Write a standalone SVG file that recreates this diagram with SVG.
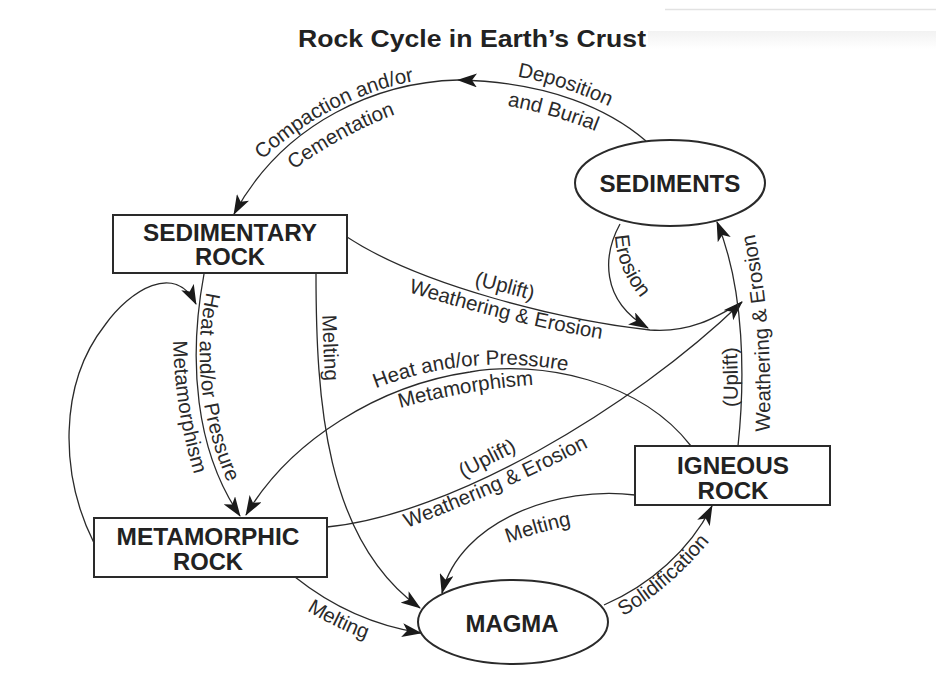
<svg xmlns="http://www.w3.org/2000/svg" width="936" height="692" viewBox="0 0 936 692">
<style>
.node-shape{fill:#fff;stroke:#2a2a2a;stroke-width:2}
.node-text{font-family:"Liberation Sans",Arial,sans-serif;font-weight:bold;font-size:23px;fill:#222;text-anchor:middle}
.edge{fill:none;stroke:#2a2a2a;stroke-width:1.3}
.arrow{marker-end:url(#ah)}
.lbl{font-family:"Liberation Sans",Arial,sans-serif;font-size:20.5px;fill:#2a2a2a}
.title{font-family:"Liberation Sans",Arial,sans-serif;font-weight:bold;font-size:24px;fill:#222;text-anchor:middle}
.guide{fill:none;stroke:none}
</style>
<defs>
<marker id="ah" viewBox="0 0 20 14" refX="19" refY="7" markerWidth="20" markerHeight="14" markerUnits="userSpaceOnUse" orient="auto">
<path d="M0,0 L20,7 L0,14 L5,7 z" fill="#1a1a1a"/>
</marker>
<linearGradient id="fade" x1="0" y1="0" x2="0" y2="1">
<stop offset="0" stop-color="#f2f2f2"/>
<stop offset="1" stop-color="#ffffff"/>
</linearGradient>
<path id="g1" class="guide" d="M 246 175 Q 331 89.5 436 78"/>
<path id="g2" class="guide" d="M 276 183 Q 342 131 416 107"/>
<path id="g3" class="guide" d="M 500 74 Q 561.5 82 625 114"/>
<path id="g4" class="guide" d="M 490 103 Q 551 111.5 612 138"/>
<path id="g5" class="guide" d="M 615 229 Q 614 268 645 303"/>
<path id="g6" class="guide" d="M 209 282 Q 182.5 385 232 492"/>
<path id="g7" class="guide" d="M 173 335 Q 173.5 408.5 196 480"/>
<path id="g8" class="guide" d="M 322 300 Q 323 348 326 396"/>
<path id="g9" class="guide" d="M 440 277 Q 503 291 566 310"/>
<path id="g10" class="guide" d="M 396 288 Q 505 323.5 614 341"/>
<path id="g11" class="guide" d="M 362 394 Q 468 348 582 374"/>
<path id="g12" class="guide" d="M 386 412 Q 467 388 548 384"/>
<path id="g13" class="guide" d="M 437 492.5 Q 490.5 463 544 438"/>
<path id="g14" class="guide" d="M 393 533 Q 496.5 495.5 602 440"/>
<path id="g15" class="guide" d="M 492 549 Q 538 530.5 588 522"/>
<path id="g16" class="guide" d="M 614 621 Q 671 591 716 533"/>
<path id="g17" class="guide" d="M 297 604 Q 333 628.5 377 643"/>
<path id="g18" class="guide" d="M 737 412 Q 739 377 736 342"/>
<path id="g19" class="guide" d="M 769 440 Q 775 333 753 226"/>
</defs>
<rect x="0" y="0" width="936" height="692" fill="#fff"/>
<line x1="665" y1="9.5" x2="936" y2="9.5" stroke="#e2e2e2" stroke-width="1.5"/>
<rect x="648" y="31" width="288" height="18" fill="url(#fade)"/>
<text class="title" x="472" y="47" textLength="348" lengthAdjust="spacingAndGlyphs">Rock Cycle in Earth’s Crust</text>

<g id="connectors">
<path class="edge arrow" d="M 646 141 C 610 110 550 82 458 80"/>
<path class="edge arrow" d="M 458 80 C 380 82 285 120 234 214"/>
<path class="edge arrow" d="M 620 224 C 603 255 600 300 648 328"/>
<path class="edge" d="M 347 237 C 420 285 560 320 650 330 C 690 333 715 318 742 302"/>
<path class="edge arrow" d="M 327 527 C 450 515 630 410 742 302"/>
<path class="edge arrow" d="M 738 446 C 745 380 745 290 717 222"/>
<path class="edge arrow" d="M 204 274 C 188 360 195 450 240 516"/>
<path class="edge arrow" d="M 94 543 C 60 475 58 385 105 325 C 130 290 175 262 196 304"/>
<path class="edge arrow" d="M 316 273 C 316 400 325 540 420 608"/>
<path class="edge arrow" d="M 691 446 C 640 380 540 360 470 372 C 380 385 290 440 246 515"/>
<path class="edge arrow" d="M 635 495 C 560 485 460 520 442 593"/>
<path class="edge arrow" d="M 604 605 C 650 585 690 550 712 506"/>
<path class="edge arrow" d="M 295 577 C 330 605 370 625 421 633"/>
</g>

<g id="edge-labels" class="lbl">
<text><textPath href="#g1" startOffset="50%" text-anchor="middle">Compaction and/or</textPath></text>
<text><textPath href="#g2" startOffset="50%" text-anchor="middle">Cementation</textPath></text>
<text><textPath href="#g3" startOffset="50%" text-anchor="middle">Deposition</textPath></text>
<text><textPath href="#g4" startOffset="50%" text-anchor="middle">and Burial</textPath></text>
<text><textPath href="#g5" startOffset="50%" text-anchor="middle">Erosion</textPath></text>
<text><textPath href="#g6" startOffset="50%" text-anchor="middle">Heat and/or Pressure</textPath></text>
<text><textPath href="#g7" startOffset="50%" text-anchor="middle">Metamorphism</textPath></text>
<text><textPath href="#g8" startOffset="50%" text-anchor="middle">Melting</textPath></text>
<text><textPath href="#g9" startOffset="50%" text-anchor="middle">(Uplift)</textPath></text>
<text><textPath href="#g10" startOffset="50%" text-anchor="middle">Weathering &amp; Erosion</textPath></text>
<text><textPath href="#g11" startOffset="50%" text-anchor="middle">Heat and/or Pressure</textPath></text>
<text><textPath href="#g12" startOffset="50%" text-anchor="middle">Metamorphism</textPath></text>
<text><textPath href="#g13" startOffset="50%" text-anchor="middle">(Uplift)</textPath></text>
<text><textPath href="#g14" startOffset="50%" text-anchor="middle">Weathering &amp; Erosion</textPath></text>
<text><textPath href="#g15" startOffset="50%" text-anchor="middle">Melting</textPath></text>
<text><textPath href="#g16" startOffset="50%" text-anchor="middle">Solidification</textPath></text>
<text><textPath href="#g17" startOffset="50%" text-anchor="middle">Melting</textPath></text>
<text><textPath href="#g18" startOffset="50%" text-anchor="middle">(Uplift)</textPath></text>
<text><textPath href="#g19" startOffset="50%" text-anchor="middle">Weathering &amp; Erosion</textPath></text>
</g>

<g id="sediments">
<ellipse class="node-shape" cx="670" cy="183" rx="95" ry="43"/>
<text class="node-text" x="670" y="192" textLength="141" lengthAdjust="spacingAndGlyphs">SEDIMENTS</text>
</g>
<g id="sedimentary-rock">
<rect class="node-shape" x="113" y="215" width="234" height="58"/>
<text class="node-text" x="230" y="241" textLength="174" lengthAdjust="spacingAndGlyphs">SEDIMENTARY</text>
<text class="node-text" x="230" y="265" textLength="70" lengthAdjust="spacingAndGlyphs">ROCK</text>
</g>
<g id="metamorphic-rock">
<rect class="node-shape" x="94" y="518" width="233" height="59"/>
<text class="node-text" x="208" y="545" textLength="183" lengthAdjust="spacingAndGlyphs">METAMORPHIC</text>
<text class="node-text" x="208" y="570" textLength="70" lengthAdjust="spacingAndGlyphs">ROCK</text>
</g>
<g id="igneous-rock">
<rect class="node-shape" x="635" y="446" width="195" height="59"/>
<text class="node-text" x="733" y="474" textLength="112" lengthAdjust="spacingAndGlyphs">IGNEOUS</text>
<text class="node-text" x="733" y="499" textLength="71" lengthAdjust="spacingAndGlyphs">ROCK</text>
</g>
<g id="magma">
<ellipse class="node-shape" cx="513" cy="622" rx="95" ry="42"/>
<text class="node-text" x="512" y="632" textLength="93" lengthAdjust="spacingAndGlyphs" style="font-size:24px">MAGMA</text>
</g>
</svg>
